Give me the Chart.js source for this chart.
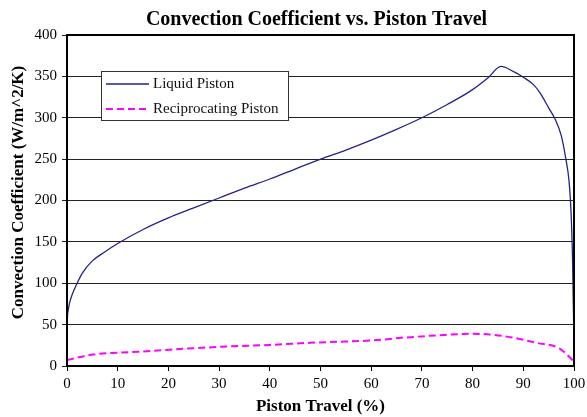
<!DOCTYPE html>
<html>
<head>
<meta charset="utf-8">
<script src="https://cdn.jsdelivr.net/npm/chart.js@4.4.1/dist/chart.umd.min.js"></script>
<style>
  html, body { margin: 0; padding: 0; background: #fff; }
  #wrap { width: 587px; height: 417px; }
</style>
</head>
<body>
<div id="wrap"><canvas id="c" width="587" height="417"></canvas></div>
<script>
// Piston travel (%) and convection coefficient (W/m^2/K) for each piston type
const liquidTravel = [0, 0.05, 0.2, 0.5, 1, 2, 3, 5, 7.5, 10, 15, 20, 25, 30, 35, 40, 45, 50, 55, 60, 65, 70, 75, 80, 83, 85.6, 88, 90, 92, 93.3, 95, 96.3, 97.5, 98.4, 99, 99.3, 99.5, 99.7, 99.85, 100];
const liquidH      = [5, 50, 66, 76, 86, 100, 112, 127, 138, 148, 165, 179, 191, 203, 215, 226, 238, 250, 261, 273, 286, 300, 316, 334, 348, 362, 356, 349, 340, 330, 312, 298, 278, 250, 225, 200, 173, 132, 80, 30];

const recipTravel = [0, 1.3, 5.2, 10, 15, 23.6, 31.5, 40, 47.9, 51.9, 60.4, 66, 72.9, 80, 86.8, 92.6, 97.2, 99.9];
const recipH      = [7, 9, 14, 16, 17.5, 21, 23.5, 25.5, 28, 29, 31, 34, 37, 39, 35.5, 28, 21, 6];

const chartTitle = 'Convection Coefficient vs. Piston Travel';
const yAxisTitle = 'Convection Coefficient (W/m^2/K)';
const xAxisTitle = 'Piston Travel (%)';
const seriesLabels = ['Liquid Piston', 'Reciprocating Piston'];
const xTicks = [0, 10, 20, 30, 40, 50, 60, 70, 80, 90, 100];
const yTicks = [0, 50, 100, 150, 200, 250, 300, 350, 400];

const SERIF = "'Liberation Serif', 'Times New Roman', serif";

const toPoints = (xs, ys) => xs.map((x, i) => ({ x: x, y: ys[i] }));

// Titles, frame around the plot area, inset legend box
const framePlugin = {
  id: 'frame',
  afterDatasetsDraw(chart) {
    const { ctx, chartArea: a } = chart;
    ctx.save();
    ctx.strokeStyle = '#000';
    ctx.lineWidth = 2;
    ctx.strokeRect(a.left, a.top, a.right - a.left, a.bottom - a.top);
    ctx.restore();
  },
  afterDraw(chart) {
    const { ctx, chartArea: a } = chart;
    ctx.save();
    ctx.fillStyle = '#000';
    ctx.font = 'bold 20px ' + SERIF;
    ctx.textAlign = 'center';
    ctx.textBaseline = 'alphabetic';
    ctx.fillText(chartTitle, (a.left + a.right) / 2 - 4, 25);

    // vertical axis title
    ctx.save();
    ctx.font = 'bold 17px ' + SERIF;
    ctx.textBaseline = 'middle';
    ctx.translate(18.5, (a.top + a.bottom) / 2 - 8);
    ctx.rotate(-Math.PI / 2);
    ctx.fillText(yAxisTitle, 0, 0);
    ctx.restore();

    const bx = a.left + 34, by = a.top + 36, bw = 187, bh = 49;
    ctx.fillStyle = '#fff';
    ctx.fillRect(bx, by, bw, bh);
    ctx.strokeStyle = '#333';
    ctx.lineWidth = 1;
    ctx.strokeRect(bx + 0.5, by + 0.5, bw, bh);
    ctx.font = '15px ' + SERIF;
    ctx.textAlign = 'left';
    ctx.textBaseline = 'middle';
    chart.data.datasets.forEach((ds, i) => {
      const y = by + 13 + i * 25;
      ctx.beginPath();
      ctx.strokeStyle = ds.borderColor;
      ctx.lineWidth = ds.borderWidth;
      ctx.setLineDash(ds.borderDash || []);
      ctx.moveTo(bx + 5, y);
      ctx.lineTo(bx + 48, y);
      ctx.stroke();
      ctx.setLineDash([]);
      ctx.fillStyle = '#111';
      ctx.fillText(ds.label, bx + 52, y);
    });
    ctx.restore();
  }
};

new Chart(document.getElementById('c'), {
  type: 'line',
  data: {
    datasets: [
      {
        label: seriesLabels[0],
        data: toPoints(liquidTravel, liquidH),
        borderColor: '#22228a',
        borderWidth: 1.3,
        pointRadius: 0,
        cubicInterpolationMode: 'monotone',
        fill: false
      },
      {
        label: seriesLabels[1],
        data: toPoints(recipTravel, recipH),
        borderColor: '#ff00ff',
        borderWidth: 2,
        borderDash: [7, 4],
        pointRadius: 0,
        cubicInterpolationMode: 'monotone',
        fill: false
      }
    ]
  },
  options: {
    responsive: false,
    animation: false,
    devicePixelRatio: 1,
    layout: { padding: { left: 0, right: 13, top: 35, bottom: 0 } },
    plugins: {
      legend: { display: false },
      tooltip: { enabled: false },
      title: { display: false }
    },
    scales: {
      x: {
        type: 'linear',
        min: 0,
        max: 100,
        afterBuildTicks(s) { s.ticks = xTicks.map(v => ({ value: v })); },
        afterFit(s) { s.height = 51; s.paddingRight = 0; s.paddingLeft = 0; },
        ticks: {
          color: '#000',
          font: { family: SERIF, size: 15 },
          padding: 4,
          maxRotation: 0
        },
        grid: { drawOnChartArea: false, drawTicks: true, tickLength: 5, color: '#000', lineWidth: 1 },
        border: { display: true, color: '#000', width: 2 },
        title: {
          display: true,
          text: xAxisTitle,
          color: '#000',
          font: { family: SERIF, size: 17, weight: 'bold' },
          padding: { top: 2, bottom: 0 }
        }
      },
      y: {
        type: 'linear',
        min: 0,
        max: 400,
        afterBuildTicks(s) { s.ticks = yTicks.map(v => ({ value: v })); },
        afterFit(s) { s.width = 67; },
        ticks: {
          color: '#000',
          font: { family: SERIF, size: 15 },
          padding: 5
        },
        grid: { color: '#222', lineWidth: 1, drawTicks: true, tickLength: 5 },
        border: { display: true, color: '#000', width: 2 },
        title: { display: false }
      }
    }
  },
  plugins: [framePlugin]
});
</script>
</body>
</html>
